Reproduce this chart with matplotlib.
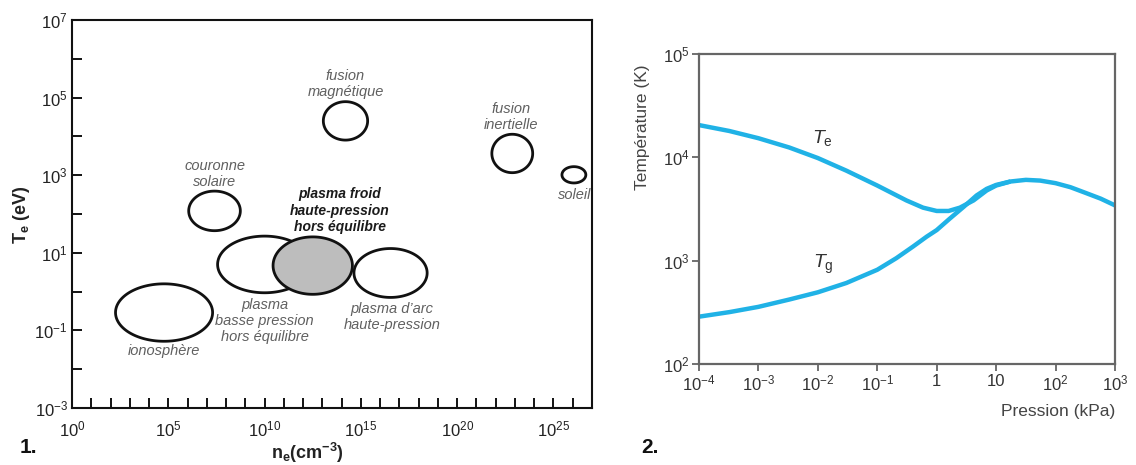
import numpy as np
import matplotlib
matplotlib.use("Agg")
import matplotlib.pyplot as plt
from matplotlib.ticker import FixedLocator, NullFormatter, NullLocator

plt.rcParams['font.family'] = ['Liberation Sans', 'DejaVu Sans']
plt.rcParams['mathtext.fontset'] = 'custom'
plt.rcParams['mathtext.rm'] = 'Liberation Sans'
plt.rcParams['mathtext.it'] = 'Liberation Sans:italic'
plt.rcParams['mathtext.bf'] = 'Liberation Sans:bold'

# ---------------- Panel 1 data (log10 units) ----------------
regions = ['ionosphère', 'plasma basse pression', 'plasma froid', "plasma d'arc",
           'couronne solaire', 'fusion magnétique', 'fusion inertielle', 'soleil']
log_ne_center = [4.78, 10.0, 12.5, 16.54, 7.4, 14.2, 22.86, 26.06]
log_te_center = [-0.54, 0.70, 0.67, 0.48, 2.08, 4.40, 3.56, 3.01]
log_ne_half = [2.52, 2.44, 2.06, 1.90, 1.34, 1.15, 1.06, 0.62]
log_te_half = [0.74, 0.73, 0.74, 0.63, 0.51, 0.495, 0.495, 0.21]
region_fill = ['white', 'white', '#bdbdbd', 'white', 'white', 'white', 'white', 'white']

label_texts = ['fusion\nmagnétique', 'fusion\ninertielle', 'soleil', 'couronne\nsolaire',
               'plasma froid\nhaute-pression\nhors équilibre',
               'plasma\nbasse pression\nhors équilibre',
               'plasma d\u2019arc\nhaute-pression', 'ionosphère']
label_log_x = [14.2, 22.8, 26.1, 7.4, 13.9, 10.0, 16.6, 4.8]
label_log_y = [5.345, 4.49, 2.50, 3.03, 2.09, -0.76, -0.655, -1.54]
label_bold = [False, False, False, False, True, False, False, False]

x1_ticks = [0, 5, 10, 15, 20, 25]
y1_ticks = [-3, -1, 1, 3, 5, 7]

# ---------------- Panel 2 data ----------------
te_log_p = [-4, -3.49, -3, -2.48, -2, -1.52, -1, -0.51, -0.23, 0, 0.2, 0.39, 0.62,
            0.84, 1, 1.24, 1.5, 1.74, 2, 2.25, 2.5, 2.76, 3]
te_log_t = [4.312, 4.255, 4.185, 4.095, 3.993, 3.871, 3.727, 3.583, 3.513, 3.481,
            3.481, 3.513, 3.583, 3.679, 3.727, 3.766, 3.782, 3.775, 3.75, 3.711,
            3.657, 3.60, 3.535]
tg_log_p = [-4, -3.49, -3, -2.48, -2, -1.52, -1, -0.68, -0.4, -0.17, 0, 0.22, 0.45,
            0.67, 0.84, 1, 1.24]
tg_log_t = [2.458, 2.502, 2.553, 2.624, 2.694, 2.784, 2.912, 3.024, 3.136, 3.232,
            3.296, 3.407, 3.519, 3.631, 3.695, 3.733, 3.766]
p_ticks = [1e-4, 1e-3, 1e-2, 1e-1, 1, 10, 1e2, 1e3]
p_ticklabels = ['$10^{-4}$', '$10^{-3}$', '$10^{-2}$', '$10^{-1}$', '1', '10',
                '$10^{2}$', '$10^{3}$']
t_ticks = [1e2, 1e3, 1e4, 1e5]
t_ticklabels = ['$10^{2}$', '$10^{3}$', '$10^{4}$', '$10^{5}$']

fig = plt.figure(figsize=(11.36, 4.65), dpi=100)

# ================= Panel 1 =================
ax1 = fig.add_axes([72/1136, 1-408/465, 520/1136, 388/465])
ax1.set_xscale('log')
ax1.set_yscale('log')
ax1.set_xlim(1.0, 1e27)
ax1.set_ylim(1e-3, 1e7)

t = np.linspace(0, 2*np.pi, 300)
for cx, cy, a, b, fc in zip(log_ne_center, log_te_center, log_ne_half, log_te_half, region_fill):
    ax1.fill(10.0**(cx + a*np.cos(t)), 10.0**(cy + b*np.sin(t)), facecolor=fc,
             edgecolor='#111111', lw=2.0, zorder=3)

for txt, lx, ly, bold in zip(label_texts, label_log_x, label_log_y, label_bold):
    ax1.text(10.0**lx, 10.0**ly, txt, ha='center', va='center', style='italic',
             fontsize=10 if bold else 10.5, linespacing=1.2,
             color='#1a1a1a' if bold else '#606060',
             fontweight='bold' if bold else 'normal', zorder=4)

ax1.xaxis.set_major_locator(FixedLocator([10.0**k for k in x1_ticks]))
ax1.xaxis.set_minor_locator(FixedLocator([10.0**k for k in range(0, 28)]))
ax1.yaxis.set_major_locator(FixedLocator([10.0**k for k in y1_ticks]))
ax1.yaxis.set_minor_locator(FixedLocator([10.0**k for k in range(-3, 8)]))
ax1.xaxis.set_minor_formatter(NullFormatter())
ax1.yaxis.set_minor_formatter(NullFormatter())
ax1.tick_params(which='both', direction='in', length=7, width=1.4, color='#111111',
                labelsize=12, labelcolor='#222222', top=False, right=False)
ax1.tick_params(axis='x', which='major', pad=8)
ax1.tick_params(axis='y', which='major', pad=3)
for s in ax1.spines.values():
    s.set_linewidth(1.5)
    s.set_color('#111111')

fig.text(22/1136, 1-215/465, r'T$_\mathbf{e}$ (eV)', rotation=90, ha='center',
         va='center', fontsize=13, fontweight='bold', color='#222222')
fig.text(307/1136, 1-453/465, r'n$_\mathbf{e}$(cm$^\mathbf{-3}$)', ha='center',
         va='center', fontsize=13, fontweight='bold', color='#222222')
fig.text(28/1136, 1-447/465, '1.', ha='center', va='center', fontsize=15,
         fontweight='bold', color='#111111')

# ================= Panel 2 =================
ax2 = fig.add_axes([699/1136, 1-364/465, 416/1136, 310/465])
ax2.set_xscale('log')
ax2.set_yscale('log')
ax2.set_xlim(1e-4, 1e3)
ax2.set_ylim(1e2, 1e5)
blue = '#20b2e6'
ax2.plot(10.0**np.array(tg_log_p), 10.0**np.array(tg_log_t), color=blue, lw=3.2,
         solid_capstyle='butt', solid_joinstyle='round')
ax2.plot(10.0**np.array(te_log_p), 10.0**np.array(te_log_t), color=blue, lw=3.2,
         solid_capstyle='butt', solid_joinstyle='round')

ax2.set_xticks(p_ticks)
ax2.set_xticklabels(p_ticklabels)
ax2.set_yticks(t_ticks)
ax2.set_yticklabels(t_ticklabels)
ax2.xaxis.set_minor_locator(NullLocator())
ax2.yaxis.set_minor_locator(NullLocator())
ax2.tick_params(which='both', direction='out', length=5, width=1.3, color='#666666',
                labelsize=12, labelcolor='#333333', pad=2)
for s in ax2.spines.values():
    s.set_linewidth(1.6)
    s.set_color('#666666')

ax2.text(10**-1.92, 10**4.19, r'$T_{\mathrm{e}}$', ha='center', va='center',
         fontsize=14, color='#333333')
ax2.text(10**-1.90, 10**2.96, r'$T_{\mathrm{g}}$', ha='center', va='center',
         fontsize=14, color='#333333')

fig.text(642/1136, 1-127/465, 'Température (K)', rotation=90, ha='center',
         va='center', fontsize=12.5, color='#444444')
fig.text(1115/1136, 1-411/465, 'Pression (kPa)', ha='right', va='center',
         fontsize=12.5, color='#444444')
fig.text(650/1136, 1-447/465, '2.', ha='center', va='center', fontsize=15,
         fontweight='bold', color='#111111')

fig.savefig('out.png', dpi=100, facecolor='white')
